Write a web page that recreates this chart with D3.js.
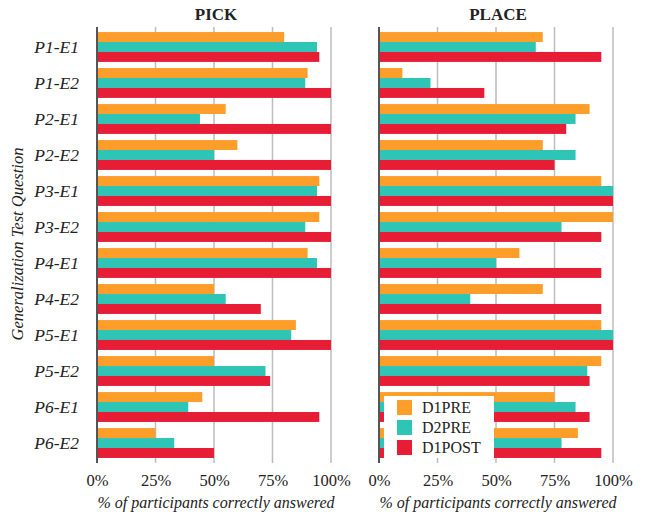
<!DOCTYPE html>
<html>
<head>
<meta charset="utf-8">
<script src="https://cdn.jsdelivr.net/npm/d3@7"></script>
<style>
  body { margin: 0; background: #fff; }
  text { font-family: "Liberation Serif", "DejaVu Serif", serif; fill: #222; }
</style>
</head>
<body>
<svg></svg>
<script>
// PICK / PLACE grouped horizontal bars

const width = 647;
const height = 515;

const questions = ["P1-E1", "P1-E2", "P2-E1", "P2-E2", "P3-E1", "P3-E2",
                   "P4-E1", "P4-E2", "P5-E1", "P5-E2", "P6-E1", "P6-E2"];
const seriesNames = ["D1PRE", "D2PRE", "D1POST"];
const ticks = [0, 25, 50, 75, 100];

const pickD1Pre  = [80, 90, 55, 60, 95, 95, 90, 50, 85, 50, 45, 25];
const pickD2Pre  = [94, 89, 44, 50, 94, 89, 94, 55, 83, 72, 39, 33];
const pickD1Post = [95, 100, 100, 100, 100, 100, 100, 70, 100, 74, 95, 50];

const placeD1Pre  = [70, 10, 90, 70, 95, 100, 60, 70, 95, 95, 75, 85];
const placeD2Pre  = [67, 22, 84, 84, 100, 78, 50, 39, 100, 89, 84, 78];
const placeD1Post = [95, 45, 80, 75, 100, 95, 95, 95, 100, 90, 90, 95];

const color = d3.scaleOrdinal()
  .domain(seriesNames)
  .range(["#fd9e2a", "#2ec4b6", "#e71d36"]);

const svg = d3.select("svg")
  .attr("width", width)
  .attr("height", height);

const y = d3.scaleBand()
  .domain(questions)
  .range([27, 463])
  .paddingInner(0.17)
  .paddingOuter(0.14);

const ySub = d3.scaleBand()
  .domain(seriesNames)
  .range([0, y.bandwidth()]);

const panels = [
  { title: "PICK", x0: 97, x1: 331, series: [pickD1Pre, pickD2Pre, pickD1Post] },
  { title: "PLACE", x0: 379, x1: 613, series: [placeD1Pre, placeD2Pre, placeD1Post] }
];

panels.forEach(p => {
  const x = d3.scaleLinear().domain([0, 100]).range([p.x0, p.x1]);
  const g = svg.append("g");

  // gridlines
  g.append("g")
    .selectAll("line")
    .data(ticks.slice(1))
    .join("line")
    .attr("x1", d => x(d))
    .attr("x2", d => x(d))
    .attr("y1", 27)
    .attr("y2", 463)
    .attr("stroke", "#bdbdbd")
    .attr("stroke-width", 1.5);

  // bars
  const rows = questions.flatMap((q, i) =>
    seriesNames.map((s, j) => ({ q, s, v: p.series[j][i] })));

  g.append("g")
    .selectAll("rect")
    .data(rows)
    .join("rect")
    .attr("x", x(0))
    .attr("y", d => y(d.q) + ySub(d.s))
    .attr("width", d => x(d.v) - x(0))
    .attr("height", ySub.bandwidth())
    .attr("fill", d => color(d.s));

  // zero line
  g.append("line")
    .attr("x1", x(0)).attr("x2", x(0))
    .attr("y1", 27).attr("y2", 463)
    .attr("stroke", "#555")
    .attr("stroke-width", 2);

  // x axis labels
  const axis = d3.axisBottom(x)
    .tickValues(ticks)
    .tickFormat(d => d + "%")
    .tickSize(0)
    .tickPadding(0);

  g.append("g")
    .attr("transform", "translate(0,474)")
    .call(axis)
    .call(a => a.select(".domain").remove())
    .selectAll("text")
    .attr("font-size", 16.5)
    .attr("fill", "#222");

  g.append("text")
    .attr("x", (p.x0 + p.x1) / 2 + 2)
    .attr("y", 508)
    .attr("text-anchor", "middle")
    .attr("font-size", 16)
    .attr("font-style", "italic")
    .text("% of participants correctly answered");

  g.append("text")
    .attr("x", (p.x0 + p.x1) / 2 + 2)
    .attr("y", 20)
    .attr("text-anchor", "middle")
    .attr("font-size", 17)
    .attr("font-weight", "bold")
    .attr("fill", "#111")
    .text(p.title);
});

// question labels
svg.append("g")
  .selectAll("text")
  .data(questions)
  .join("text")
  .attr("x", 79)
  .attr("y", d => y(d) + y.bandwidth() / 2)
  .attr("dy", "0.35em")
  .attr("text-anchor", "end")
  .attr("font-size", 17.5)
  .attr("font-style", "italic")
  .text(d => d);

svg.append("text")
  .attr("transform", "translate(23,244) rotate(-90)")
  .attr("text-anchor", "middle")
  .attr("font-size", 16.5)
  .attr("font-style", "italic")
  .text("Generalization Test Question");

// legend
const legend = svg.append("g");
legend.append("rect")
  .attr("x", 384).attr("y", 396)
  .attr("width", 110).attr("height", 62)
  .attr("fill", "#fff");

seriesNames.forEach((s, i) => {
  const row = legend.append("g").attr("transform", `translate(397, ${400 + i * 20})`);
  row.append("rect")
    .attr("width", 15)
    .attr("height", 15)
    .attr("fill", color(s));
  row.append("text")
    .attr("x", 25)
    .attr("y", 7.5)
    .attr("dy", "0.35em")
    .attr("font-size", 16)
    .text(s);
});
</script>
</body>
</html>
